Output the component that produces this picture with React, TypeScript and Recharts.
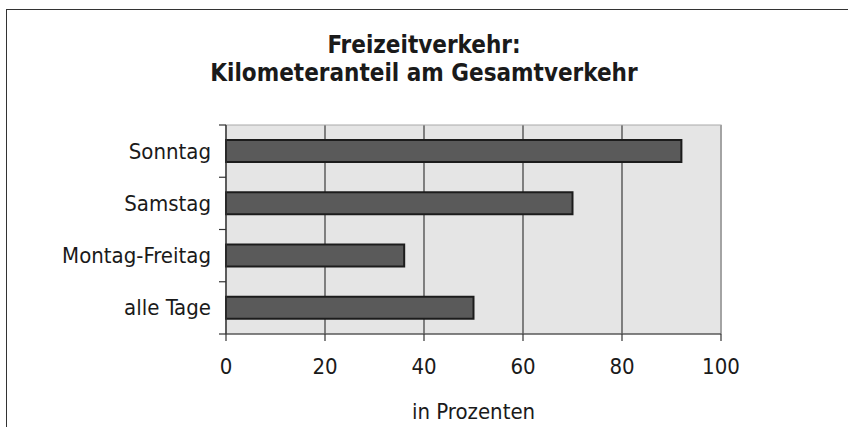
import React from "react";
import {
  BarChart,
  Bar,
  XAxis,
  YAxis,
  CartesianGrid,
  ReferenceLine,
  ReferenceArea,
} from "recharts";

const categories = ["Sonntag", "Samstag", "Montag-Freitag", "alle Tage"];
const shares = [92, 70, 36, 50];
const xTicks = [0, 20, 40, 60, 80, 100];
const titleLines = ["Freizeitverkehr:", "Kilometeranteil am Gesamtverkehr"];
const axisTitle = "in Prozenten";

const data = categories.map((day, i) => ({ day, share: shares[i] }));

const W = 848;
const H = 427;
const TOP = 125;
const RIGHT = 127;
const Y_AXIS_W = 226;
const X_AXIS_H = 93;
const BAND = (H - TOP - X_AXIS_H) / categories.length;

const FONT = "'Liberation Sans Narrow', 'DejaVu Sans Condensed', 'Arial Narrow', sans-serif";
const INK = "#1a1a1a";

// category label plus tick marks on the band boundaries
const YTick = (props: any) => {
  const { x, y, payload, index } = props;
  const axisX = x + 15;
  return (
    <g>
      <text
        x={x}
        y={y}
        textAnchor="end"
        dominantBaseline="central"
        fontFamily={FONT}
        fontSize={22}
        fill={INK}
      >
        {payload.value}
      </text>
      <line x1={axisX - 7} x2={axisX} y1={y - BAND / 2} y2={y - BAND / 2} stroke="#333" strokeWidth={1.2} />
      {index === categories.length - 1 && (
        <line x1={axisX - 7} x2={axisX} y1={y + BAND / 2} y2={y + BAND / 2} stroke="#333" strokeWidth={1.2} />
      )}
    </g>
  );
};

export default function App() {
  return (
    <div style={{ position: "absolute", left: 0, top: 0, width: W, height: H, background: "#fff" }}>
      {/* frame */}
      <div
        style={{
          position: "absolute",
          left: 6,
          top: 9,
          width: W,
          height: H,
          borderTop: "1.5px solid #333",
          borderLeft: "1.5px solid #333",
        }}
      />
      <div
        style={{
          position: "absolute",
          left: 0,
          top: 31,
          width: W,
          textAlign: "center",
          fontFamily: FONT,
          fontWeight: "bold",
          fontSize: 24,
          lineHeight: "28px",
          color: INK,
        }}
      >
        {titleLines.map((t) => (
          <div key={t}>{t}</div>
        ))}
      </div>
      <BarChart
        width={W}
        height={H}
        data={data}
        layout="vertical"
        margin={{ top: TOP, right: RIGHT, bottom: 0, left: 0 }}
        barSize={22}
      >
        <CartesianGrid
          horizontal={false}
          fill="#e5e5e5"
          fillOpacity={1}
          stroke="#3a3a3a"
          strokeWidth={1.2}
        />
        <ReferenceArea x1={0} x2={100} fill="none" stroke="#aaaaaa" strokeWidth={1.2} />
        <ReferenceLine x={100} stroke="#aaaaaa" strokeWidth={1.2} />
        <XAxis
          type="number"
          domain={[0, 100]}
          ticks={xTicks}
          height={X_AXIS_H}
          tickSize={7}
          tickMargin={17}
          axisLine={{ stroke: "#333", strokeWidth: 1.2 }}
          tickLine={{ stroke: "#333", strokeWidth: 1.2 }}
          tick={{ fill: INK, fontSize: 22, fontFamily: FONT }}
          label={{
            value: axisTitle,
            position: "insideBottom",
            offset: 8,
            fill: INK,
            fontSize: 22,
            fontFamily: FONT,
          }}
        />
        <YAxis
          type="category"
          dataKey="day"
          width={Y_AXIS_W}
          tickSize={7}
          tickMargin={8}
          tickLine={false}
          axisLine={{ stroke: "#333", strokeWidth: 1.2 }}
          tick={<YTick />}
        />
        <Bar
          dataKey="share"
          fill="#5a5a5a"
          stroke="#1c1c1c"
          strokeWidth={2}
          isAnimationActive={false}
        />
      </BarChart>
    </div>
  );
}
